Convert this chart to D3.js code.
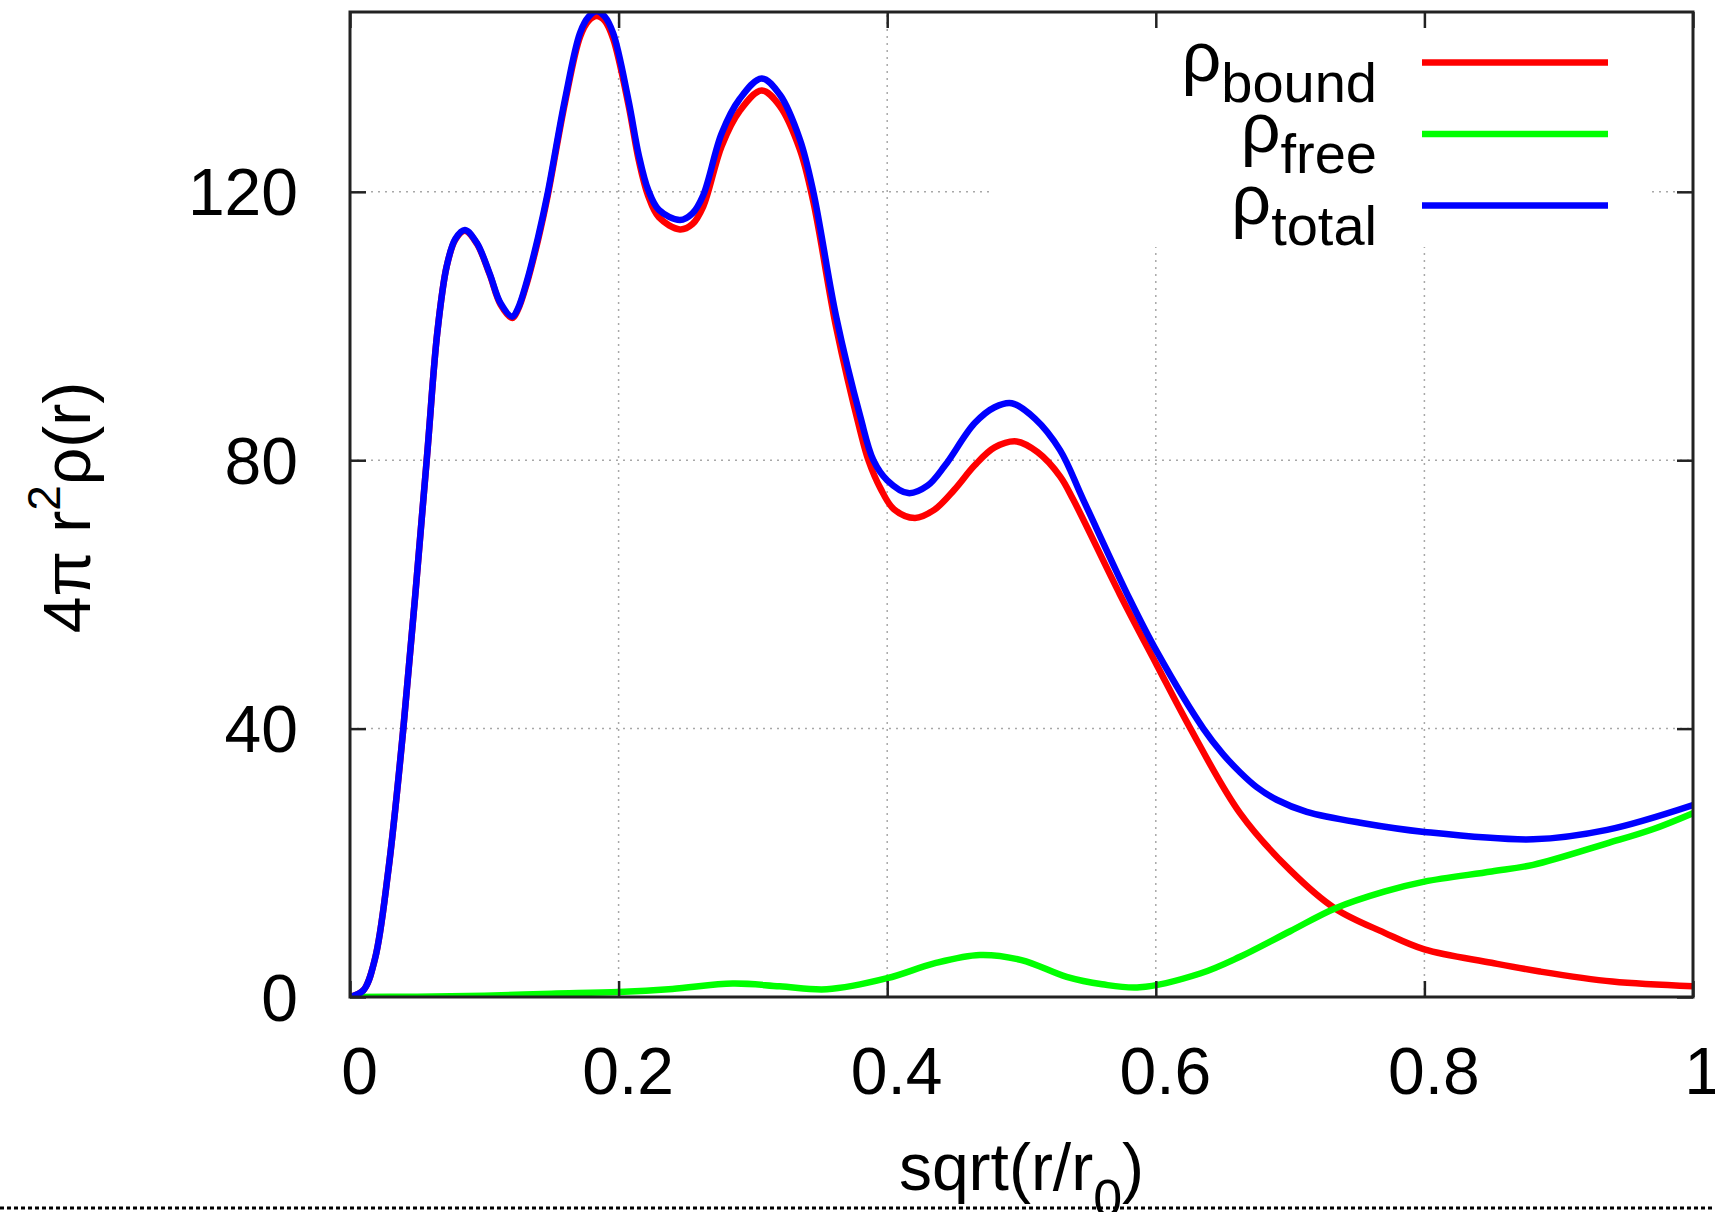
<!DOCTYPE html>
<html>
<head>
<meta charset="utf-8">
<script src="https://cdn.jsdelivr.net/npm/d3@7"></script>
<style>
  body { margin: 0; background: #fff; }
  svg { display: block; }
  text { font-family: "Liberation Sans", Arial, Helvetica, sans-serif; fill: #000; }
</style>
</head>
<body>
<div id="chart"></div>
<script>

// data: [sqrt(r/r0), 4 pi r^2 rho(r)]
var bound = [
	[0, 0], [0.01, 1], [0.0186, 5.7], [0.0285, 18.8], [0.0397, 40], [0.0571, 80],
	[0.065, 99], [0.072, 108.9], [0.0785, 112.9], [0.0856, 114.2], [0.0944, 112.3],
	[0.104, 107.7], [0.1121, 103.2], [0.1209, 101.2], [0.125, 102.4], [0.1316, 106.3],
	[0.14, 112.8], [0.147, 119.2], [0.16, 133.2], [0.1713, 143.1], [0.1777, 145.5],
	[0.1837, 146.2], [0.1897, 145.5], [0.196, 142.8], [0.2073, 133], [0.215, 124.7],
	[0.222, 119.4], [0.23, 116.2], [0.2457, 114.4], [0.255, 115.2], [0.263, 117.8],
	[0.2767, 126.8], [0.29, 132], [0.3065, 135.1], [0.32, 132.8], [0.335, 126.3],
	[0.345, 118.5], [0.362, 99.8], [0.38, 84.3], [0.386, 80], [0.395, 75.8],
	[0.405, 72.7], [0.4207, 71.4], [0.435, 72.6], [0.45, 75.6], [0.465, 79.2],
	[0.48, 81.9], [0.4964, 82.8], [0.512, 81.2], [0.5287, 77.6], [0.5386, 74.1],
	[0.5733, 60], [0.6007, 49.5], [0.625, 40.3], [0.6627, 27.4], [0.7, 18.9],
	[0.7334, 13.2], [0.77, 9.6], [0.8, 7.1], [0.85, 5.1], [0.886, 3.8], [0.94, 2.3], [1, 1.6]
];
var free = [
	[0, 0], [0.05, 0.05], [0.1, 0.2], [0.15, 0.5], [0.2, 0.75], [0.24, 1.2],
	[0.285, 2.0], [0.32, 1.6], [0.355, 1.15], [0.4, 2.8], [0.435, 5.0], [0.469, 6.26],
	[0.5, 5.5], [0.5336, 3.0], [0.56, 1.9], [0.588, 1.44], [0.633, 3.5], [0.6627, 6.0],
	[0.7, 9.8], [0.7334, 13.2], [0.77, 15.7], [0.8, 17.2], [0.85, 18.7], [0.881, 19.7],
	[0.936, 22.9], [0.97, 25], [1, 27.4]
];
var total = [
	[0, 0], [0.01, 1], [0.0186, 5.7], [0.0285, 18.8], [0.0397, 40], [0.0571, 80],
	[0.065, 99], [0.072, 108.9], [0.0785, 113], [0.0856, 114.3], [0.0944, 112.4],
	[0.104, 107.8], [0.1121, 103.4], [0.1209, 101.4], [0.125, 102.6], [0.1316, 106.6],
	[0.14, 113.2], [0.147, 119.6], [0.16, 133.7], [0.1713, 143.7], [0.1777, 146.1],
	[0.1837, 146.9], [0.1897, 146.1], [0.196, 143.6], [0.2073, 133.7], [0.215, 125.5],
	[0.222, 120.3], [0.23, 117.3], [0.2457, 115.8], [0.255, 116.8], [0.263, 119.5],
	[0.2767, 128.7], [0.29, 133.8], [0.3065, 136.9], [0.32, 134.5], [0.335, 127.8],
	[0.345, 120], [0.362, 101.4], [0.38, 86.5], [0.3897, 80], [0.40, 77], [0.4157, 75.1],
	[0.43, 76.2], [0.443, 79.2], [0.465, 85.5], [0.48, 87.9], [0.4927, 88.5], [0.51, 86.2],
	[0.5287, 81.5], [0.546, 74.1], [0.5808, 59.2], [0.6007, 51.5], [0.6354, 40],
	[0.65, 36.2], [0.6627, 33.5], [0.675, 31.3], [0.69, 29.4], [0.7124, 27.6],
	[0.7545, 25.9], [0.8, 24.6], [0.881, 23.5], [0.936, 24.9], [1, 28.6]
];

var series_names = ['bound', 'free', 'total'];
var series_colors = ['#ff0000', '#00ff00', '#0000ff'];
var x_ticks = [0, 0.2, 0.4, 0.6, 0.8, 1];
var x_tick_labels = ['0', '0.2', '0.4', '0.6', '0.8', '1'];
var y_ticks = [0, 40, 80, 120];
var y_tick_labels = ['0', '40', '80', '120'];


// Chart
var W = 1715, H = 1212;
var plot = {left: 350, right: 1693, top: 12, bottom: 997};

var svg = d3.select('#chart').append('svg')
	.attr('width', W)
	.attr('height', H);

var x_scale = d3.scaleLinear().domain([0, 1]).range([plot.left, plot.right]);
var y_scale = d3.scaleLinear().domain([0, 146.8]).range([plot.bottom, plot.top]);

svg.append('clipPath').attr('id', 'plot-clip')
  .append('rect')
	.attr('x', plot.left).attr('y', plot.top)
	.attr('width', plot.right - plot.left).attr('height', plot.bottom - plot.top);

// grid
var grid = svg.append('g')
	.attr('stroke', '#a8a8a8')
	.attr('stroke-width', 1.5)
	.attr('stroke-dasharray', '2,5');
grid.selectAll('.gx')
	.data(x_ticks.slice(1, -1))
	.enter().append('line')
	  .attr('x1', (d) => x_scale(d)).attr('x2', (d) => x_scale(d))
	  .attr('y1', plot.bottom).attr('y2', plot.top);
grid.selectAll('.gy')
	.data(y_ticks.slice(1))
	.enter().append('line')
	  .attr('x1', plot.left).attr('x2', plot.right)
	  .attr('y1', (d) => y_scale(d)).attr('y2', (d) => y_scale(d));

// opaque key box hides the grid behind it
svg.append('rect')
	.attr('x', 993).attr('y', plot.top + 2)
	.attr('width', 1651 - 993).attr('height', 245 - plot.top)
	.attr('fill', '#fff');

// curves
var line = d3.line()
	.x((d) => x_scale(d[0]))
	.y((d) => y_scale(d[1]))
	.curve(d3.curveCatmullRom.alpha(0.5));

var all_series = [bound, free, total];
svg.append('g')
	.attr('clip-path', 'url(#plot-clip)')
  .selectAll('path')
	.data(all_series)
	.enter().append('path')
	  .attr('d', line)
	  .attr('fill', 'none')
	  .attr('stroke', (d, i) => series_colors[i])
	  .attr('stroke-width', 6.5)
	  .attr('stroke-linejoin', 'round')
	  .attr('stroke-linecap', 'round');

// axes, ticks pointing inward on all four sides
var tick_len = 16;
var ax_bottom = svg.append('g')
	.attr('transform', 'translate(0,' + plot.bottom + ')')
	.call(d3.axisBottom(x_scale).tickValues(x_ticks)
		.tickFormat((d, i) => x_tick_labels[i])
		.tickSize(-tick_len).tickSizeOuter(0).tickPadding(50));
var ax_left = svg.append('g')
	.attr('transform', 'translate(' + plot.left + ',0)')
	.call(d3.axisLeft(y_scale).tickValues(y_ticks)
		.tickFormat((d, i) => y_tick_labels[i])
		.tickSize(-tick_len).tickSizeOuter(0).tickPadding(52));
var ax_top = svg.append('g')
	.attr('transform', 'translate(0,' + plot.top + ')')
	.call(d3.axisTop(x_scale).tickValues(x_ticks).tickFormat('')
		.tickSize(-tick_len).tickSizeOuter(0));
var ax_right = svg.append('g')
	.attr('transform', 'translate(' + plot.right + ',0)')
	.call(d3.axisRight(y_scale).tickValues(y_ticks).tickFormat('')
		.tickSize(-tick_len).tickSizeOuter(0));

[ax_bottom, ax_left, ax_top, ax_right].forEach((ax) => {
	ax.select('.domain').remove();
	ax.selectAll('line').attr('stroke', '#222').attr('stroke-width', 2.5);
	ax.selectAll('text')
	  .attr('font-family', '"Liberation Sans", Arial, sans-serif')
	  .attr('font-size', 66)
	  .attr('fill', '#000');
});
ax_bottom.selectAll('text').attr('dx', 9);
ax_left.selectAll('text').attr('dy', '0.35em');

// frame
svg.append('rect')
	.attr('x', plot.left).attr('y', plot.top)
	.attr('width', plot.right - plot.left).attr('height', plot.bottom - plot.top)
	.attr('fill', 'none')
	.attr('stroke', '#222')
	.attr('stroke-width', 3);

// legend
var key = svg.append('g');
var key_rows = key.selectAll('g')
	.data(series_names)
	.enter().append('g')
	  .attr('transform', (d, i) => 'translate(0,' + (62.5 + i * 71.5) + ')');
key_rows.append('line')
	.attr('x1', 1422).attr('x2', 1608)
	.attr('y1', 0).attr('y2', 0)
	.attr('stroke', (d, i) => series_colors[i])
	.attr('stroke-width', 6.5);
var key_text = key_rows.append('text')
	.attr('x', 1377).attr('y', 18)
	.attr('text-anchor', 'end')
	.attr('font-size', 70);
key_text.append('tspan').text('ρ');
key_text.append('tspan')
	.attr('dy', 21)
	.attr('font-size', 56)
	.text((d) => d);

// axis labels
var xl = svg.append('text')
	.attr('x', (plot.left + plot.right) / 2)
	.attr('y', 1190)
	.attr('text-anchor', 'middle')
	.attr('font-size', 66);
xl.append('tspan').text('sqrt(r/r');
xl.append('tspan').attr('dy', 26).attr('font-size', 52).text('0');
xl.append('tspan').attr('dy', -26).text(')');

var yl = svg.append('text')
	.attr('transform', 'translate(90,' + ((plot.top + plot.bottom) / 2 + 3) + ') rotate(-90)')
	.attr('text-anchor', 'middle')
	.attr('font-size', 66);
yl.append('tspan').text('4π r');
yl.append('tspan').attr('dy', -30).attr('font-size', 46).text('2');
yl.append('tspan').attr('dy', 30).text('ρ(r)');

// dashed line along the bottom edge
svg.append('line')
	.attr('x1', 0).attr('x2', W)
	.attr('y1', 1208).attr('y2', 1208)
	.attr('stroke', '#000')
	.attr('stroke-width', 3)
	.attr('stroke-dasharray', '4,3');

</script>
</body>
</html>
